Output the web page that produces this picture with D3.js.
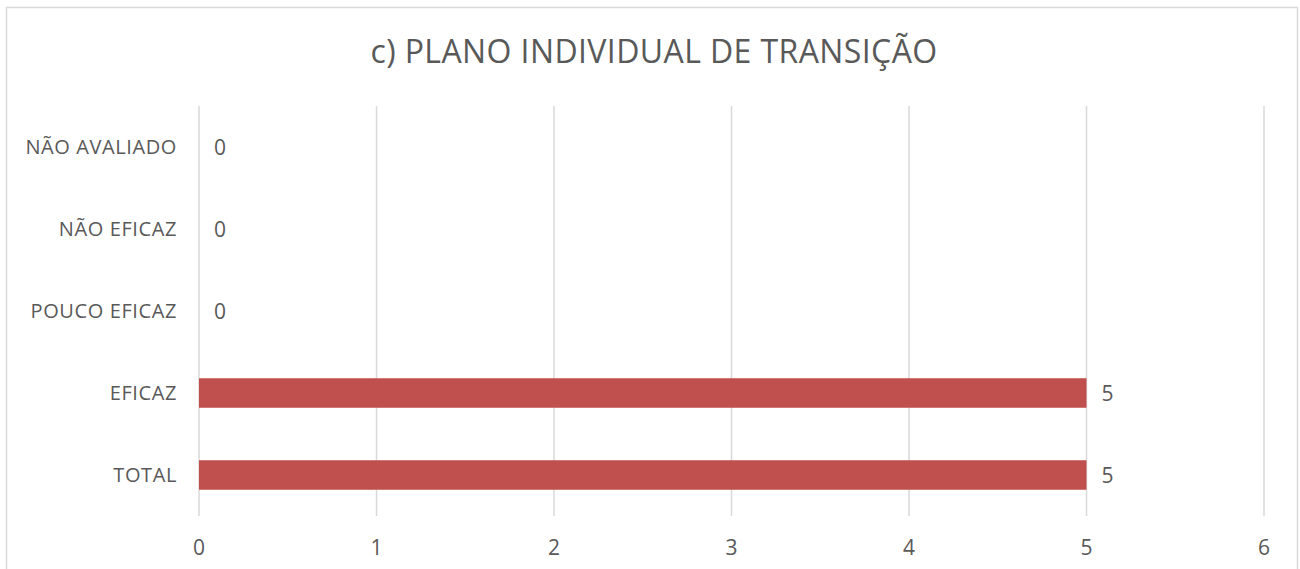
<!DOCTYPE html>
<html>
<head>
<meta charset="utf-8">
<script src="https://cdn.jsdelivr.net/npm/d3@7"></script>
<style>
  html, body { margin: 0; padding: 0; background: #fff; }
  .container { width: 1300px; height: 569px; }
  text { font-family: "Open Sans", sans-serif; fill: #595959; }
</style>
</head>
<body>
<div class="container"></div>
<script>
const categories = ["NÃO AVALIADO", "NÃO EFICAZ", "POUCO EFICAZ", "EFICAZ", "TOTAL"];
const values = [0, 0, 0, 5, 5];
const xTicks = [0, 1, 2, 3, 4, 5, 6];
const title = "c) PLANO INDIVIDUAL DE TRANSIÇÃO";

const width = 1300, height = 569;
const plot = { left: 199, right: 1264, top: 106, bottom: 516 };

const svg = d3.select(".container")
    .append("svg")
        .attr("width", width)
        .attr("height", height);

// chart border (bottom edge falls outside the picture)
svg.append("rect")
    .attr("x", 6.5).attr("y", 7.5)
    .attr("width", 1291).attr("height", 580)
    .attr("fill", "none")
    .attr("stroke", "#d9d9d9")
    .attr("stroke-width", 1.5);

svg.append("text")
    .attr("x", 654).attr("y", 63)
    .attr("text-anchor", "middle")
    .attr("font-size", 32)
    .attr("letter-spacing", 0.4)
    .text(title);

const x = d3.scaleLinear().domain([0, 6]).range([plot.left, plot.right]);
const y = d3.scaleBand().domain(categories).range([plot.top, plot.bottom]).paddingInner(0.64).paddingOuter(0.32);

// vertical gridlines
svg.append("g")
    .selectAll("line")
    .data(xTicks)
    .join("line")
        .attr("x1", d => x(d)).attr("x2", d => x(d))
        .attr("y1", plot.top).attr("y2", plot.bottom)
        .attr("stroke", "#d9d9d9")
        .attr("stroke-width", 1.5);

// x tick labels
svg.append("g")
    .selectAll("text")
    .data(xTicks)
    .join("text")
        .attr("x", d => x(d))
        .attr("y", 555)
        .attr("text-anchor", "middle")
        .attr("font-size", 21)
        .text(d => d);

// bars
svg.append("g")
    .selectAll("rect")
    .data(values)
    .join("rect")
        .attr("x", x(0))
        .attr("y", (d, i) => y(categories[i]))
        .attr("width", d => x(d) - x(0))
        .attr("height", y.bandwidth())
        .attr("fill", "#c0504d");

// value labels
svg.append("g")
    .selectAll("text")
    .data(values)
    .join("text")
        .attr("x", d => x(d) + 15)
        .attr("y", (d, i) => y(categories[i]) + y.bandwidth() / 2)
        .attr("dy", "0.36em")
        .attr("font-size", 21)
        .attr("fill", "#404040")
        .text(d => d);

// category labels
svg.append("g")
    .selectAll("text")
    .data(categories)
    .join("text")
        .attr("x", 177)
        .attr("y", d => y(d) + y.bandwidth() / 2)
        .attr("dy", "0.35em")
        .attr("text-anchor", "end")
        .attr("font-size", 20)
        .attr("letter-spacing", 0.6)
        .text(d => d);
</script>
</body>
</html>
